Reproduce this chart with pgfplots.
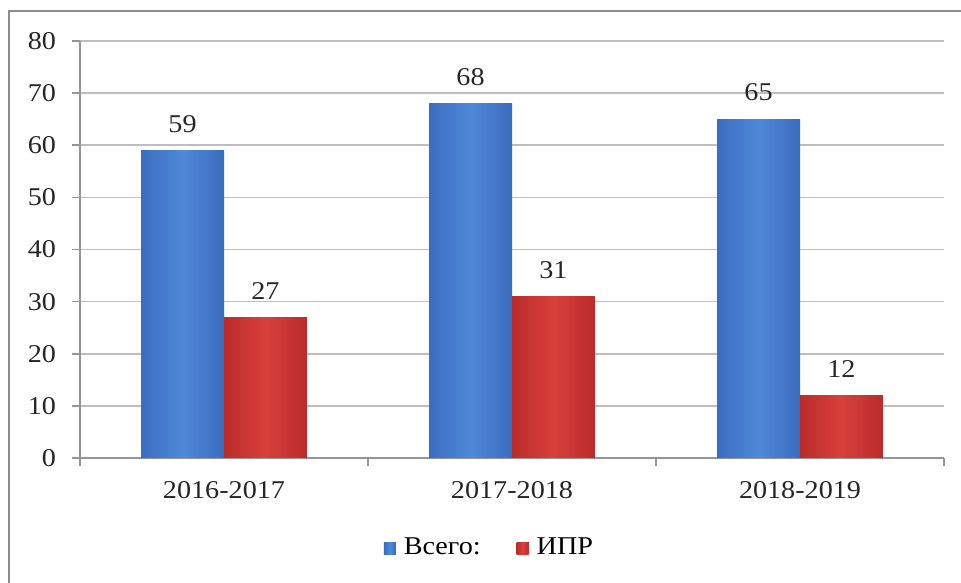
\documentclass[border=0pt]{standalone}
\usepackage{pgfplots}
\pgfplotsset{compat=1.18}
\usepackage{fontspec}
\setmainfont{Liberation Serif}[FakeStretch=1.1]

\definecolor{gridgray}{RGB}{190,190,190}
\definecolor{axisgray}{RGB}{150,150,150}
\definecolor{frame}{RGB}{140,140,140}
\definecolor{bluemid}{RGB}{80,137,216}
\definecolor{blueedge}{RGB}{58,108,192}
\definecolor{redmid}{RGB}{216,64,60}
\definecolor{rededge}{RGB}{186,44,42}

\newcommand{\lblfont}{\fontsize{12.8}{15}\selectfont}

\begin{document}
\begin{tikzpicture}
\useasboundingbox (0pt,0pt) rectangle (480.5pt,291pt);
\draw[frame, line width=1pt] (4.5pt,-10pt) rectangle (495pt,285.5pt);
\begin{axis}[
    at={(40pt,62pt)}, anchor=south west,
    scale only axis,
    width=432pt, height=208.5pt,
    ymin=0, ymax=80,
    ytick={0,10,...,80},
    xmin=-0.5, xmax=2.5,
    xtick={-0.5,0.5,1.5,2.5},
    xticklabels={},
    extra x ticks={0,1,2},
    extra x tick labels={2016-2017,2017-2018,2018-2019},
    extra x tick style={major tick length=0pt,
        xticklabel style={yshift=-8.4pt}},
    axis x line*=bottom,
    axis y line*=left,
    axis line style={axisgray, line width=0.8pt},
    tick style={axisgray, line width=0.8pt},
    tick align=outside,
    major tick length=4pt,
    ymajorgrids,
    grid style={gridgray, line width=0.8pt},
    ticklabel style={font=\lblfont, text=black!85},
    yticklabel style={xshift=-4.5pt},
    /pgf/number format/assume math mode=true,
    ybar=0pt,
    bar width=0.288,
    nodes near coords,
    every node near coord/.append style={font=\lblfont, text=black!85, yshift=5.5pt},
    blue bar/.style={draw=none, left color=blueedge, right color=blueedge,
        middle color=bluemid, bar shift=-0.144},
    red bar/.style={draw=none, left color=rededge, right color=rededge,
        middle color=redmid, bar shift=0.144},
    legend columns=2,
    legend style={at={(0.475,-0.216)}, anchor=center, draw=none, fill=none,
        font=\lblfont, column sep=2pt,
        /tikz/every even column/.append style={column sep=16pt}},
    legend image code/.code={\fill[#1] (0pt,-3pt) rectangle (6pt,3pt);},
]
% one plot per bar, so that each bar gets its own shading
\addplot[blue bar] coordinates {(0,59)};
\addplot[red bar] coordinates {(0,27)};
\addplot[blue bar, forget plot] coordinates {(1,68)};
\addplot[blue bar, forget plot] coordinates {(2,65)};
\addplot[red bar, forget plot] coordinates {(1,31)};
\addplot[red bar, forget plot] coordinates {(2,12)};
\legend{Всего:, ИПР}
\end{axis}
\end{tikzpicture}
\end{document}
